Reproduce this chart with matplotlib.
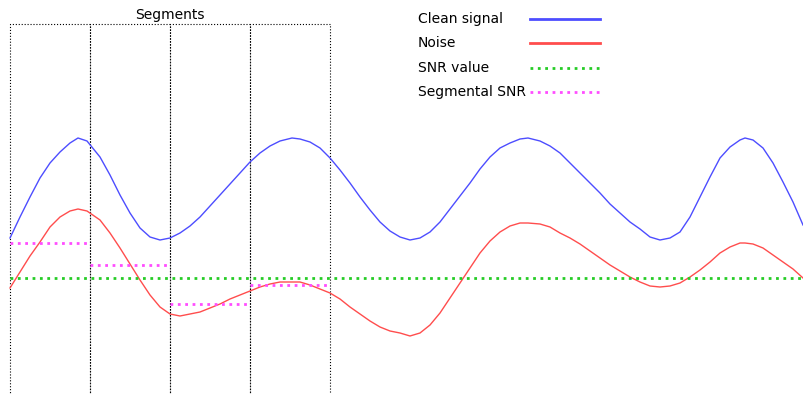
import numpy as np
import matplotlib.pyplot as plt
from matplotlib.patches import Rectangle

# values (x in samples, y in amplitude)
t = [10, 20, 30, 40, 50, 60, 70, 78, 87, 100, 110, 120, 130, 140, 150, 160, 170, 180, 190, 200,
     210, 220, 230, 240, 250, 260, 270, 280, 292, 300, 310, 320, 330, 340, 350, 360, 370, 380, 390, 400,
     410, 420, 430, 440, 450, 460, 470, 480, 490, 500, 510, 520, 528, 540, 550, 560, 570, 580, 590, 600,
     610, 620, 630, 640, 650, 660, 670, 680, 690, 700, 710, 720, 730, 740, 745, 753, 763, 773, 783, 793,
     803]
clean = [0.40, 0.61, 0.81, 1.00, 1.15, 1.26, 1.35, 1.40, 1.37, 1.21, 1.03, 0.83, 0.65, 0.50, 0.41, 0.38, 0.40, 0.45, 0.52, 0.61,
         0.72, 0.83, 0.94, 1.05, 1.16, 1.25, 1.32, 1.37, 1.40, 1.39, 1.36, 1.30, 1.20, 1.08, 0.95, 0.81, 0.68, 0.56, 0.47, 0.41,
         0.38, 0.40, 0.46, 0.56, 0.69, 0.82, 0.95, 1.09, 1.21, 1.30, 1.35, 1.39, 1.40, 1.37, 1.32, 1.25, 1.15, 1.05, 0.95, 0.85,
         0.74, 0.65, 0.56, 0.49, 0.41, 0.38, 0.40, 0.46, 0.61, 0.81, 1.01, 1.20, 1.31, 1.38, 1.40, 1.38, 1.30, 1.15, 0.96, 0.76,
         0.53]
noise = [-0.10, 0.06, 0.22, 0.36, 0.51, 0.61, 0.67, 0.69, 0.67, 0.58, 0.45, 0.30, 0.14, -0.02, -0.17, -0.29, -0.36, -0.38, -0.36, -0.34,
         -0.30, -0.26, -0.21, -0.17, -0.13, -0.09, -0.06, -0.04, -0.04, -0.04, -0.07, -0.11, -0.15, -0.21, -0.29, -0.36, -0.43, -0.49, -0.53, -0.55,
         -0.58, -0.55, -0.47, -0.35, -0.20, -0.05, 0.10, 0.25, 0.37, 0.46, 0.52, 0.55, 0.55, 0.54, 0.51, 0.45, 0.40, 0.34, 0.27, 0.20,
         0.13, 0.07, 0.01, -0.04, -0.08, -0.09, -0.08, -0.05, 0.01, 0.08, 0.16, 0.25, 0.31, 0.35, 0.35, 0.34, 0.30, 0.23, 0.16, 0.09,
         0.00]

snr_value = 0.0
seg_edges = [10, 90, 170, 250, 330]
seg_snr = [0.35, 0.13, -0.26, -0.07]
box_top = 2.54

labels = ['Clean signal', 'Noise', 'SNR value', 'Segmental SNR']
colors = [(0.3, 0.3, 1.0), (1.0, 0.3, 0.3), (0.15, 0.8, 0.15), (1.0, 0.3, 1.0)]
styles = ['-', '-', ':', ':']

fig = plt.figure(figsize=(8.04, 3.94), dpi=100)
ax = fig.add_axes([0, 0, 1, 1])
ax.set_xlim(0, 804)
ax.set_ylim(-1.16, 2.78)
ax.axis('off')

ax.plot(t, clean, color=colors[0], lw=1)
ax.plot(t, noise, color=colors[1], lw=1)
ax.plot([t[0], t[-1]], [snr_value, snr_value], color=colors[2], lw=2, ls=':')
for i in range(len(seg_snr)):
    ax.plot([seg_edges[i], seg_edges[i + 1]], [seg_snr[i], seg_snr[i]], color=colors[3], lw=2, ls=':')

# segment boxes
for i in range(len(seg_snr)):
    ax.add_patch(Rectangle((seg_edges[i], -1.5), seg_edges[i + 1] - seg_edges[i], box_top + 1.5,
                           fill=False, ec='black', lw=0.8, ls=':'))
ax.text((seg_edges[0] + seg_edges[-1]) / 2, box_top + 0.02, 'Segments', ha='center', va='bottom', fontsize=10)

# legend: labels left aligned, handles on the right
for i, lab in enumerate(labels):
    yy = 0.952 - i * 0.062
    ax.text(0.52, yy, lab, transform=ax.transAxes, va='center', ha='left', fontsize=10)
    ax.plot([0.659, 0.746], [yy, yy], transform=ax.transAxes, color=colors[i], ls=styles[i], lw=2)

fig.savefig('out.png', dpi=100)
